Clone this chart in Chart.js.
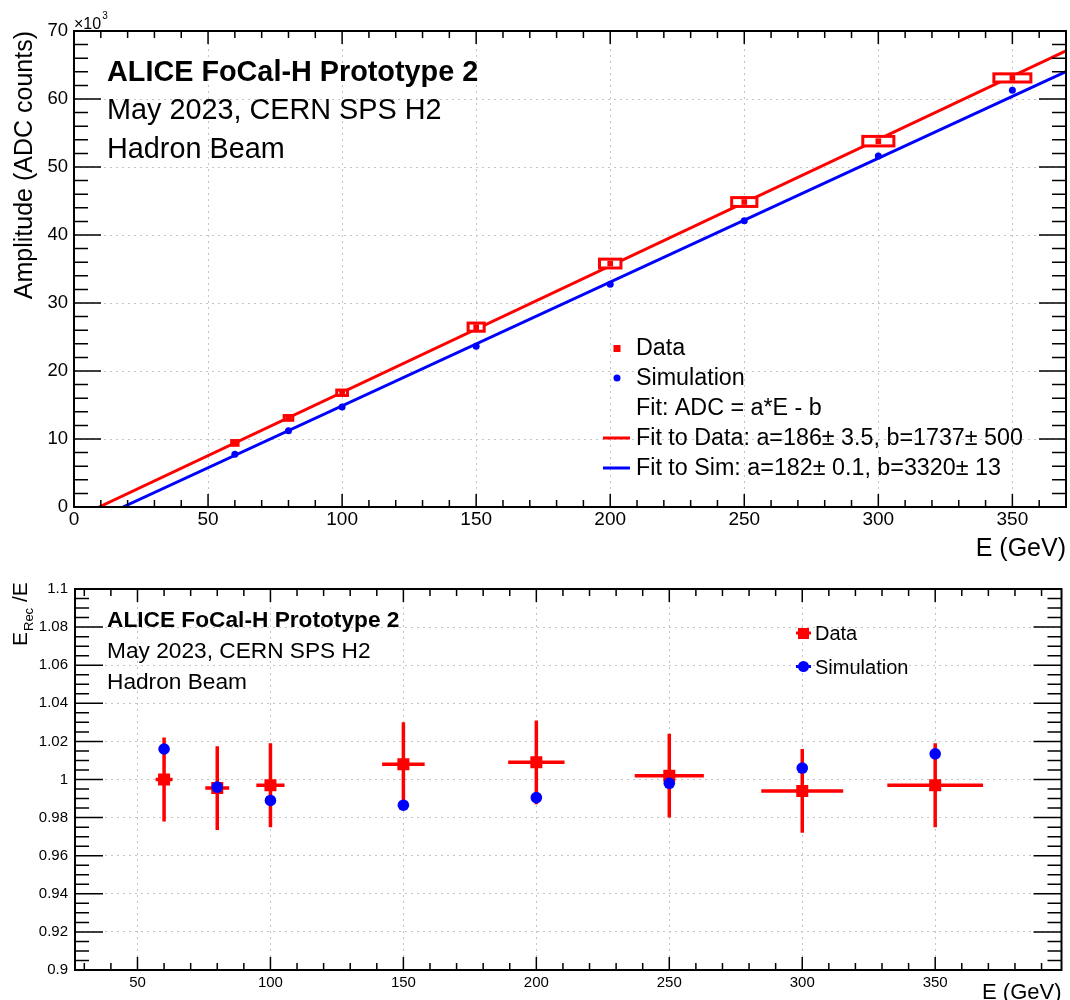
<!DOCTYPE html>
<html>
<head>
<meta charset="utf-8">
<script src="https://cdn.jsdelivr.net/npm/chart.js@4.4.0/dist/chart.umd.min.js"></script>
<style>
  html, body { margin: 0; padding: 0; background: #fff; overflow: hidden; }
  #wrap { position: relative; width: 1070px; height: 1000px; }
  canvas { position: absolute; left: 0; }
  #chartTop { top: 0; }
  #chartBottom { top: 570px; }
</style>
</head>
<body>
<div id="wrap">
  <canvas id="chartTop" width="1070" height="570"></canvas>
  <canvas id="chartBottom" width="1070" height="440"></canvas>
</div>
<script>
const FONT = '"Liberation Sans", Arial, Helvetica, sans-serif';
const RED = '#ff0000';
const BLUE = '#0000ff';

// beam energies (GeV)
const energies = [60, 80, 100, 150, 200, 250, 300, 350];

// top panel: amplitude in ADC counts
const dataAdc = [9420, 13100, 16800, 26450, 35800, 44850, 53800, 63100];
const dataSysE = [1.2, 1.6, 2, 3, 4, 4.7, 5.8, 6.9];
const dataSysAdc = [350, 350, 400, 600, 650, 650, 700, 600];
const simAdc = [7750, 11200, 14700, 23650, 32750, 42100, 51600, 61300];
const fitData = { a: 186, b: 1737 };
const fitSim = { a: 182, b: 3320 };
const topXTicks = [0, 50, 100, 150, 200, 250, 300, 350];
const topYTicks = [0, 10000, 20000, 30000, 40000, 50000, 60000, 70000];

// bottom panel: E_rec / E
const ratioData = [1.000, 0.9955, 0.997, 1.008, 1.009, 1.002, 0.994, 0.997];
const ratioDataErr = [0.022, 0.022, 0.022, 0.022, 0.022, 0.022, 0.022, 0.022];
const ratioEErr = [3.2, 4.5, 5.3, 8, 10.6, 13, 15.4, 18];
const ratioSim = [1.016, 0.996, 0.989, 0.9865, 0.9905, 0.998, 1.006, 1.0135];
const botXTicks = [50, 100, 150, 200, 250, 300, 350];
const botYTicks = [0.9, 0.92, 0.94, 0.96, 0.98, 1.0, 1.02, 1.04, 1.06, 1.08, 1.1];

const header = ['ALICE FoCal-H Prototype 2', 'May 2023, CERN SPS H2', 'Hadron Beam'];

function fitLine(p, xmax) {
  return [{ x: p.b / p.a, y: 0 }, { x: xmax, y: p.a * xmax - p.b }];
}

// ROOT style frame with inward ticks on all four sides
function frame(o) {
  return {
    id: 'frame',
    afterDraw(chart) {
      const { ctx, chartArea: a, scales: { x, y } } = chart;
      ctx.save();
      ctx.strokeStyle = '#000';
      ctx.lineWidth = 1.5;
      ctx.beginPath();
      for (let i = 0; ; i++) {
        const v = o.xStart + i * o.xStep;
        if (v > x.max + 1e-9) break;
        const px = x.getPixelForValue(v);
        const len = (i + o.xOff) % o.xEvery === 0 ? o.xMaj : o.xMin;
        ctx.moveTo(px, a.bottom); ctx.lineTo(px, a.bottom - len);
        ctx.moveTo(px, a.top); ctx.lineTo(px, a.top + len);
      }
      for (let i = 0; ; i++) {
        const v = o.yStart + i * o.yStep;
        if (v > y.max + 1e-9) break;
        const py = y.getPixelForValue(v);
        const len = i % o.yEvery === 0 ? o.yMaj : o.yMin;
        ctx.moveTo(a.left, py); ctx.lineTo(a.left + len, py);
        ctx.moveTo(a.right, py); ctx.lineTo(a.right - len, py);
      }
      ctx.stroke();
      ctx.lineWidth = 2;
      ctx.strokeRect(a.left, a.top, a.right - a.left, a.bottom - a.top);
      ctx.restore();
    }
  };
}

// systematic boxes drawn just before the Data markers
const sysBoxes = {
  id: 'sysBoxes',
  beforeDatasetDraw(chart, args) {
    if (args.index !== 1) return;
    const { ctx, scales: { x, y } } = chart;
    ctx.save();
    ctx.strokeStyle = RED;
    ctx.fillStyle = '#fff';
    ctx.lineWidth = 3;
    energies.forEach((e, i) => {
      const x0 = x.getPixelForValue(e - dataSysE[i]);
      const x1 = x.getPixelForValue(e + dataSysE[i]);
      const y0 = y.getPixelForValue(dataAdc[i] + dataSysAdc[i]);
      const y1 = y.getPixelForValue(dataAdc[i] - dataSysAdc[i]);
      ctx.fillRect(x0, y0, x1 - x0, y1 - y0);
      ctx.strokeRect(x0, y0, x1 - x0, y1 - y0);
    });
    ctx.restore();
  }
};

const topText = {
  id: 'topText',
  afterDraw(chart) {
    const ctx = chart.ctx;
    ctx.save();
    ctx.fillStyle = '#000';
    ctx.textBaseline = 'alphabetic';
    ctx.font = 'bold 28.8px ' + FONT;
    ctx.fillText(header[0], 107, 81);
    ctx.font = '28.8px ' + FONT;
    ctx.fillText(header[1], 107, 119);
    ctx.fillText(header[2], 107, 158);

    ctx.font = '16px ' + FONT;
    ctx.fillText('\u00d710', 74, 29);
    const w = ctx.measureText('\u00d710').width;
    ctx.font = '10px ' + FONT;
    ctx.fillText('3', 74 + w + 1, 19);

    // legend
    ctx.font = '23.3px ' + FONT;
    const tx = 636;
    ctx.fillText('Data', tx, 355);
    ctx.fillText('Simulation', tx, 385);
    ctx.fillText('Fit: ADC = a*E - b', tx, 415);
    ctx.fillText('Fit to Data: a=186\u00b1 3.5, b=1737\u00b1 500', tx, 445);
    ctx.fillText('Fit to Sim: a=182\u00b1 0.1, b=3320\u00b1 13', tx, 475);
    ctx.fillStyle = RED;
    ctx.fillRect(613.5, 345, 7, 7);
    ctx.fillStyle = BLUE;
    ctx.beginPath(); ctx.arc(617, 378, 3.5, 0, Math.PI * 2); ctx.fill();
    ctx.lineWidth = 3;
    ctx.strokeStyle = RED;
    ctx.beginPath(); ctx.moveTo(603, 438); ctx.lineTo(630, 438); ctx.stroke();
    ctx.strokeStyle = BLUE;
    ctx.beginPath(); ctx.moveTo(603, 468); ctx.lineTo(630, 468); ctx.stroke();
    ctx.restore();
  }
};

const errorBars = {
  id: 'errorBars',
  beforeDatasetsDraw(chart) {
    const { ctx, scales: { x, y } } = chart;
    ctx.save();
    ctx.strokeStyle = RED;
    ctx.lineWidth = 3.5;
    ctx.beginPath();
    energies.forEach((e, i) => {
      const px = x.getPixelForValue(e);
      const py = y.getPixelForValue(ratioData[i]);
      ctx.moveTo(x.getPixelForValue(e - ratioEErr[i]), py);
      ctx.lineTo(x.getPixelForValue(e + ratioEErr[i]), py);
      ctx.moveTo(px, y.getPixelForValue(ratioData[i] - ratioDataErr[i]));
      ctx.lineTo(px, y.getPixelForValue(ratioData[i] + ratioDataErr[i]));
    });
    ctx.stroke();
    ctx.restore();
  }
};

const bottomText = {
  id: 'bottomText',
  afterDraw(chart) {
    const ctx = chart.ctx;
    ctx.save();
    ctx.fillStyle = '#000';
    ctx.textBaseline = 'alphabetic';
    ctx.font = 'bold 22.7px ' + FONT;
    ctx.fillText(header[0], 107, 57);
    ctx.font = '22.7px ' + FONT;
    ctx.fillText(header[1], 107, 88);
    ctx.fillText(header[2], 107, 119);

    // y title E_Rec /E
    ctx.save();
    ctx.translate(27, 76);
    ctx.rotate(-Math.PI / 2);
    ctx.font = '21px ' + FONT;
    ctx.fillText('E', 0, 0);
    let w = ctx.measureText('E').width;
    ctx.font = '13px ' + FONT;
    ctx.fillText('Rec', w + 1, 6);
    w += ctx.measureText('Rec').width + 1;
    ctx.font = '21px ' + FONT;
    ctx.fillText(' /E', w, 0);
    ctx.restore();

    // legend
    ctx.font = '20px ' + FONT;
    ctx.fillText('Data', 815, 70);
    ctx.fillText('Simulation', 815, 104);
    ctx.lineWidth = 3;
    ctx.strokeStyle = RED;
    ctx.beginPath(); ctx.moveTo(796, 63); ctx.lineTo(811, 63); ctx.stroke();
    ctx.fillStyle = RED;
    ctx.fillRect(798, 58, 11, 11);
    ctx.strokeStyle = BLUE;
    ctx.beginPath(); ctx.moveTo(796, 96.5); ctx.lineTo(811, 96.5); ctx.stroke();
    ctx.fillStyle = BLUE;
    ctx.beginPath(); ctx.arc(803.5, 96.5, 5.5, 0, Math.PI * 2); ctx.fill();
    ctx.restore();
  }
};

const gridOpts = { color: '#c4c4c4', lineWidth: 1, drawTicks: false };
const borderOpts = { display: false, dash: [2, 4] };

const ctxTop = document.getElementById('chartTop').getContext('2d');
const chartTop = new Chart(ctxTop, {
  type: 'scatter',
  data: {
    datasets: [
      {
        label: 'Simulation',
        data: energies.map((e, i) => ({ x: e, y: simAdc[i] })),
        backgroundColor: BLUE, borderColor: BLUE, borderWidth: 0,
        pointStyle: 'circle', pointRadius: 3.5
      },
      {
        label: 'Data',
        data: energies.map((e, i) => ({ x: e, y: dataAdc[i] })),
        backgroundColor: RED, borderColor: RED, borderWidth: 0,
        pointStyle: 'rect', pointRadius: 4
      },
      {
        label: 'Fit to Data',
        data: fitLine(fitData, 370),
        showLine: true, borderColor: RED, borderWidth: 3, pointRadius: 0
      },
      {
        label: 'Fit to Sim',
        data: fitLine(fitSim, 370),
        showLine: true, borderColor: BLUE, borderWidth: 3, pointRadius: 0
      }
    ]
  },
  options: {
    responsive: false,
    animation: false,
    devicePixelRatio: 1,
    layout: { padding: { top: 31, right: 4, left: 0, bottom: 0 } },
    plugins: { legend: { display: false }, tooltip: { enabled: false } },
    scales: {
      x: {
        type: 'linear', min: 0, max: 370,
        afterBuildTicks: s => { s.ticks = topXTicks.map(v => ({ value: v })); },
        afterFit: s => { s.height = 63; },
        ticks: { autoSkip: false, maxRotation: 0, padding: 1, color: '#000', font: { family: FONT, size: 19 } },
        grid: gridOpts,
        border: borderOpts,
        title: { display: true, text: 'E (GeV)', align: 'end', color: '#000', font: { family: FONT, size: 25 }, padding: { bottom: 6 } }
      },
      y: {
        type: 'linear', min: 0, max: 70000,
        afterBuildTicks: s => { s.ticks = topYTicks.map(v => ({ value: v })); },
        afterFit: s => { s.width = 74; },
        ticks: { autoSkip: false, padding: 6, color: '#000', font: { family: FONT, size: 18.5 }, callback: v => v / 1000 },
        grid: gridOpts,
        border: borderOpts,
        title: { display: true, text: 'Amplitude (ADC counts)', align: 'end', color: '#000', font: { family: FONT, size: 25 }, padding: { top: 10 } }
      }
    }
  },
  plugins: [sysBoxes, topText, frame({ xStart: 0, xStep: 10, xEvery: 5, xOff: 0, xMaj: 13, xMin: 7, yStart: 0, yStep: 2000, yEvery: 5, yMaj: 27, yMin: 14 })]
});

const ctxBottom = document.getElementById('chartBottom').getContext('2d');
const chartBottom = new Chart(ctxBottom, {
  type: 'scatter',
  data: {
    datasets: [
      {
        label: 'Simulation',
        data: energies.map((e, i) => ({ x: e, y: ratioSim[i] })),
        backgroundColor: BLUE, borderColor: BLUE, borderWidth: 0,
        pointStyle: 'circle', pointRadius: 5.8
      },
      {
        label: 'Data',
        data: energies.map((e, i) => ({ x: e, y: ratioData[i] })),
        backgroundColor: RED, borderColor: RED, borderWidth: 0,
        pointStyle: 'rect', pointRadius: 8.5
      }
    ]
  },
  options: {
    responsive: false,
    animation: false,
    devicePixelRatio: 1,
    layout: { padding: { top: 19, right: 8, left: 0, bottom: 0 } },
    plugins: { legend: { display: false }, tooltip: { enabled: false } },
    scales: {
      x: {
        type: 'linear', min: 26.5, max: 397.5,
        afterBuildTicks: s => { s.ticks = botXTicks.map(v => ({ value: v })); },
        afterFit: s => { s.height = 40; },
        ticks: { autoSkip: false, maxRotation: 0, padding: 4, color: '#000', font: { family: FONT, size: 15 } },
        grid: gridOpts,
        border: borderOpts,
        title: { display: true, text: 'E (GeV)', align: 'end', color: '#000', font: { family: FONT, size: 22 }, padding: { bottom: 4 } }
      },
      y: {
        type: 'linear', min: 0.9, max: 1.1,
        afterBuildTicks: s => { s.ticks = botYTicks.map(v => ({ value: v })); },
        afterFit: s => { s.width = 75; },
        ticks: { autoSkip: false, padding: 7, color: '#000', font: { family: FONT, size: 15 }, callback: v => String(Number(v.toFixed(2))) },
        grid: gridOpts,
        border: borderOpts,
        title: { display: false }
      }
    }
  },
  plugins: [errorBars, bottomText, frame({ xStart: 30, xStep: 10, xEvery: 5, xOff: 3, xMaj: 13, xMin: 7, yStart: 0.9, yStep: 0.005, yEvery: 4, yMaj: 28, yMin: 14 })]
});
</script>
</body>
</html>
